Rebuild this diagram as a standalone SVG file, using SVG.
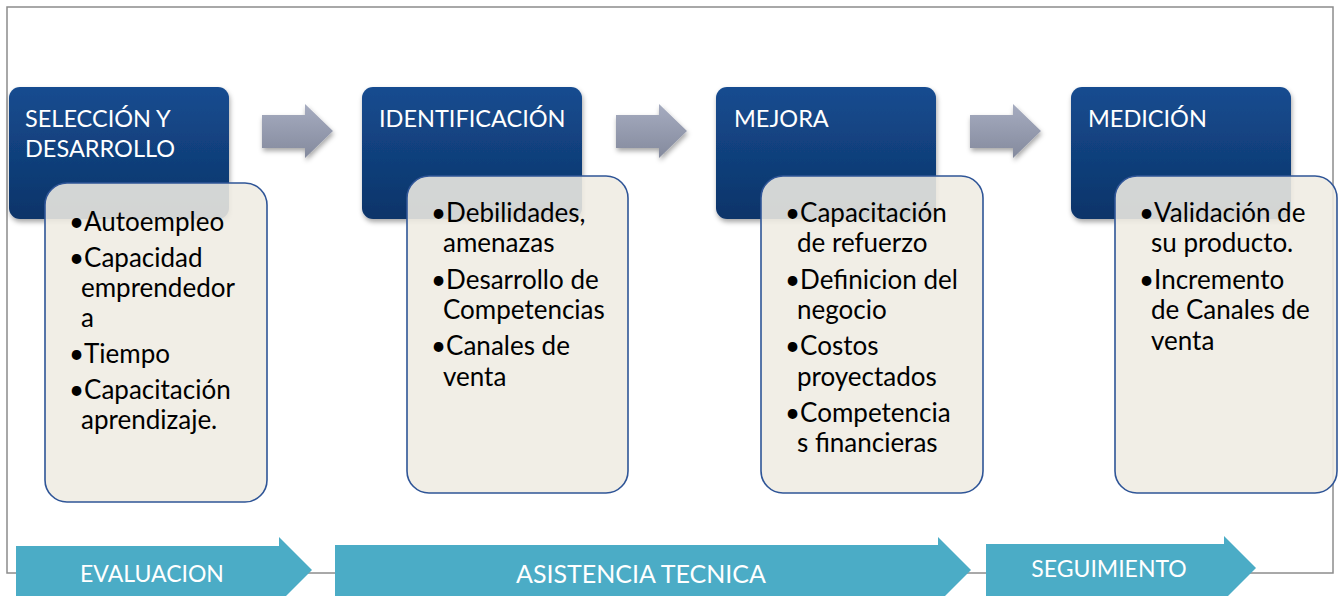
<svg xmlns="http://www.w3.org/2000/svg" width="1341" height="596" viewBox="0 0 1341 596">
<defs>
<linearGradient id="gBlue" x1="0" y1="0" x2="0" y2="1">
<stop offset="0" stop-color="#164c90"/>
<stop offset="1" stop-color="#0c3469"/>
</linearGradient>
<linearGradient id="gGray" x1="0" y1="0" x2="0" y2="1">
<stop offset="0" stop-color="#a6acc0"/>
<stop offset="1" stop-color="#848a9d"/>
</linearGradient>
<filter id="sh" x="-20%" y="-20%" width="140%" height="150%">
<feDropShadow dx="1" dy="3" stdDeviation="2.5" flood-color="#000" flood-opacity="0.35"/>
</filter>
<path id="garrow" d="M0,11 H43 V0 L71,27 L43,54 V44 H0 Z"/>
</defs>
<style>
.frame{fill:none;stroke:#8c8c8c;stroke-width:1.5}
.blue{fill:url(#gBlue);filter:url(#sh)}
.cream{fill:#efece3;fill-opacity:0.88;stroke:#2f5597;stroke-width:1.6}
.gar{fill:url(#gGray);filter:url(#sh)}
.teal{fill:#4bacc6}
.title{font-family:Lato,"Open Sans",sans-serif;font-size:23.5px;fill:#ffffff}
.body{font-family:Lato,"Open Sans",sans-serif;font-size:26px;fill:#000000}
.lab{font-family:Lato,"Open Sans",sans-serif;font-size:23px;fill:#ffffff;text-anchor:middle}
</style>
<rect class="frame" x="7" y="7" width="1326" height="566"/>

<g id="connectors">
<use href="#garrow" class="gar" x="262" y="104"/>
<use href="#garrow" class="gar" x="616" y="104"/>
<use href="#garrow" class="gar" x="970" y="104"/>
</g>

<g id="node1">
<rect class="blue" x="9" y="87" width="220" height="132" rx="11"/>
<text class="title" x="25" y="127">SELECCIÓN Y</text>
<text class="title" x="25" y="157">DESARROLLO</text>
<rect class="cream" x="45" y="183" width="222" height="319" rx="22"/>
<g class="body">
<text x="69" y="231">•Autoempleo</text>
<text x="69" y="267">•Capacidad</text>
<text x="81" y="297">emprendedor</text>
<text x="81" y="327">a</text>
<text x="69" y="363">•Tiempo</text>
<text x="69" y="399">•Capacitación</text>
<text x="81" y="429">aprendizaje.</text>
</g>
</g>

<g id="node2">
<rect class="blue" x="362" y="87" width="220" height="132" rx="11"/>
<text class="title" x="379" y="127">IDENTIFICACIÓN</text>
<rect class="cream" x="407" y="176" width="221" height="317" rx="22"/>
<g class="body">
<text x="431" y="222">•Debilidades,</text>
<text x="443" y="252">amenazas</text>
<text x="431" y="289">•Desarrollo de</text>
<text x="443" y="319">Competencias</text>
<text x="431" y="355">•Canales de</text>
<text x="443" y="386">venta</text>
</g>
</g>

<g id="node3">
<rect class="blue" x="716" y="87" width="220" height="132" rx="11"/>
<text class="title" x="734" y="127">MEJORA</text>
<rect class="cream" x="761" y="176" width="222" height="317" rx="22"/>
<g class="body">
<text x="785" y="222">•Capacitación</text>
<text x="797" y="252">de refuerzo</text>
<text x="785" y="289">•Definicion del</text>
<text x="797" y="319">negocio</text>
<text x="785" y="355">•Costos</text>
<text x="797" y="386">proyectados</text>
<text x="785" y="422">•Competencia</text>
<text x="797" y="452">s financieras</text>
</g>
</g>

<g id="node4">
<rect class="blue" x="1071" y="87" width="220" height="132" rx="11"/>
<text class="title" x="1088" y="127">MEDICIÓN</text>
<rect class="cream" x="1115" y="176" width="222" height="317" rx="22"/>
<g class="body">
<text x="1139" y="222">•Validación de</text>
<text x="1151" y="252">su producto.</text>
<text x="1139" y="289">•Incremento</text>
<text x="1151" y="319">de Canales de</text>
<text x="1151" y="350">venta</text>
</g>
</g>

<g id="phase1">
<path class="teal" d="M16,546 H279 V537 L312,570 L279,603 V596 H16 Z"/>
<text class="lab" x="152" y="582">EVALUACION</text>
</g>
<g id="phase2">
<path class="teal" d="M335,545 H938 V537 L971,570 L938,603 V596 H335 Z"/>
<text class="lab" x="641" y="583" style="font-size:25px">ASISTENCIA TECNICA</text>
</g>
<g id="phase3">
<path class="teal" d="M986,544 H1224 V536 L1256,568 L1224,600 V596 H986 Z"/>
<text class="lab" x="1109" y="577">SEGUIMIENTO</text>
</g>
</svg>
